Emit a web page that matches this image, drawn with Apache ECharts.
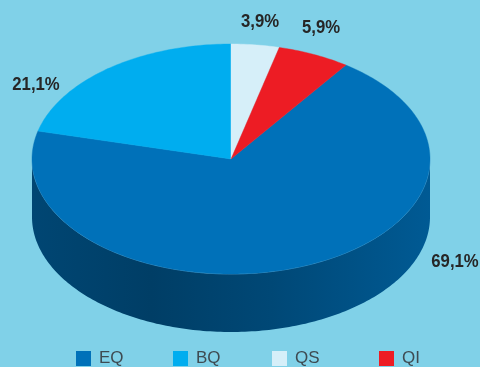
<!DOCTYPE html>
<html>
<head>
<meta charset="utf-8">
<script src="https://cdn.jsdelivr.net/npm/echarts@6/dist/echarts.min.js"></script>
<style>
  html, body { margin: 0; padding: 0; background: #80d1e8; }
  #chart { width: 480px; height: 367px; }
</style>
</head>
<body>
<div id="chart"></div>
<script>
// Portfolio split by asset class (percent)
const categories = ['EQ', 'BQ', 'QS', 'QI'];
const shares = [69.1, 21.1, 3.9, 5.9];
const colors = ['#0071b9', '#00adef', '#d6eff9', '#ed1c24'];

// Layout of the tilted pie: centre, radii of the top ellipse and thickness
const PIE = { cx: 231, cy: 159, rx: 199, ry: 115, depth: 58 };
const FIRST_AT_TOP = 'QS';
// Label anchors, relative to the pie centre
const LABEL_OFFSET = { EQ: [224, 103], BQ: [-195, -74], QS: [29, -137], QI: [90, -131] };
const LEGEND_LEFT = [76, 173, 272, 379];

const total = shares.reduce((a, b) => a + b, 0);
// Angles in degrees, clockwise from 12 o'clock
const topIdx = categories.indexOf(FIRST_AT_TOP);
const before = shares.slice(0, topIdx).reduce((a, b) => a + b, 0);
const ranges = [];
let acc = 360 - before / total * 360;
shares.forEach(v => {
  const sweep = v / total * 360;
  ranges.push([acc, acc + sweep]);
  acc += sweep;
});

function pt(deg, dy) {
  const r = deg * Math.PI / 180;
  return [PIE.cx + PIE.rx * Math.sin(r), PIE.cy - PIE.ry * Math.cos(r) + (dy || 0)];
}
function arc(a, b, dy) {
  const n = Math.max(2, Math.ceil(Math.abs(b - a)));
  const pts = [];
  for (let i = 0; i <= n; i++) pts.push(pt(a + (b - a) * i / n, dy));
  return pts;
}
function shade(hex, f) {
  const c = echarts.color.parse(hex);
  return 'rgb(' + [0, 1, 2].map(k => Math.round(c[k] * f)).join(',') + ')';
}
function sideFill(color) {
  return new echarts.graphic.LinearGradient(PIE.cx - PIE.rx, 0, PIE.cx + PIE.rx, 0, [
    { offset: 0, color: shade(color, 0.62) },
    { offset: 0.3, color: shade(color, 0.55) },
    { offset: 0.6, color: shade(color, 0.64) },
    { offset: 1, color: shade(color, 0.80) }
  ], true);
}
function fmt(v) {
  return v.toFixed(1).replace('.', ',') + '%';
}

function makeRender(i) {
  return function () {
    const [a, b] = ranges[i];
    const children = [];
    // Front wall: only the part of the rim facing the viewer (90°..270°)
    [0, 360].forEach(off => {
      const s = Math.max(a, 90 + off), e = Math.min(b, 270 + off);
      if (e > s) {
        children.push({
          type: 'polygon',
          shape: { points: arc(s, e, 0).concat(arc(e, s, PIE.depth)) },
          style: { fill: sideFill(colors[i]) }
        });
        children.push({
          type: 'polyline',
          shape: { points: arc(s, e, 0) },
          style: { stroke: 'rgba(140,200,240,0.55)', lineWidth: 0.8, fill: null }
        });
      }
    });
    // Top face
    children.push({
      type: 'polygon',
      shape: { points: [[PIE.cx, PIE.cy]].concat(arc(a, b, 0)) },
      style: { fill: colors[i], stroke: colors[i], lineWidth: 0.4 }
    });
    const off = LABEL_OFFSET[categories[i]];
    children.push({
      type: 'text',
      x: PIE.cx + off[0],
      y: PIE.cy + off[1],
      scaleX: 0.88,
      style: {
        text: fmt(shares[i]),
        fill: '#262626',
        fontSize: 19,
        fontWeight: 'bold',
        fontFamily: "'Liberation Sans', Arial, sans-serif",
        align: 'center',
        verticalAlign: 'middle'
      }
    });
    return { type: 'group', children };
  };
}

const chart = echarts.init(document.getElementById('chart'));
chart.setOption({
  backgroundColor: '#80d1e8',
  animation: false,
  legend: categories.map((c, i) => ({
    data: [c],
    left: LEGEND_LEFT[i],
    top: 350,
    padding: 0,
    itemWidth: 15,
    itemHeight: 15,
    itemGap: 0,
    icon: 'rect',
    selectedMode: false,
    textStyle: { fontSize: 17, color: '#3e4b52', fontFamily: "'Liberation Sans', Arial, sans-serif", padding: [2, 0, 0, 3] }
  })),
  series: categories.map((c, i) => ({
    type: 'custom',
    name: c,
    coordinateSystem: 'none',
    itemStyle: { color: colors[i] },
    data: [shares[i]],
    z: i === 0 ? 2 : 3,
    renderItem: makeRender(i)
  }))
});
</script>
</body>
</html>
